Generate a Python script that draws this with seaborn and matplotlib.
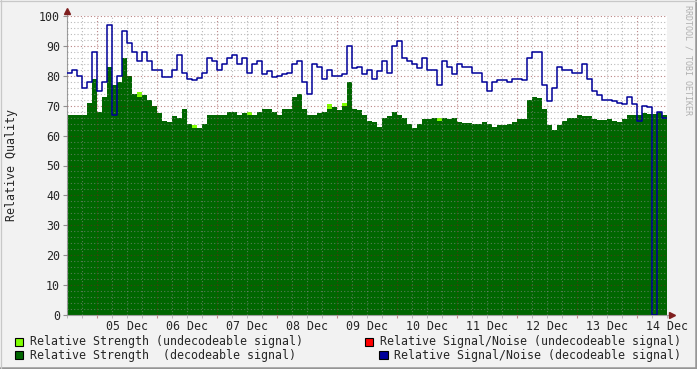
import numpy as np
import pandas as pd
import matplotlib
matplotlib.use("Agg")
import matplotlib.pyplot as plt
import matplotlib.dates as mdates
from matplotlib.ticker import FixedLocator, FuncFormatter, MultipleLocator, NullFormatter
from matplotlib.patches import Rectangle
from matplotlib.lines import Line2D
import seaborn as sns

# time span of the graph (2 hour samples)
start = pd.Timestamp("2023-12-04 12:00")
end = pd.Timestamp("2023-12-14 12:00")

# relative strength, decodeable signal (green area)
strength_dec = [
    67, 67, 67, 67, 71, 79, 68, 73, 83, 77,
    78, 86, 80, 74, 73, 73.5, 72, 70, 67.5, 65,
    64.5, 66.5, 66, 69, 64, 62.5, 62.5, 64, 67, 67,
    67, 67, 68, 68, 67, 67.5, 67, 67, 68, 69,
    69, 68, 67, 69, 69, 73, 74, 69, 67, 67,
    67.5, 68, 69, 69.5, 68.5, 70, 78, 69, 68.5, 67,
    65, 64.5, 63, 66, 66.5, 68, 67, 66, 64, 62.5,
    64, 65.5, 65.5, 66, 65, 66, 65.5, 66, 64.5, 64.2,
    64.2, 64, 64, 64.5, 64, 63, 63.5, 63.5, 64, 64.5,
    65.5, 65.5, 72, 73, 72.5, 69, 63.5, 62, 63.5, 65,
    66, 66, 67, 66.5, 66.5, 65.5, 65.2, 65.2, 65.5, 65,
    64.5, 65.5, 67, 67, 67, 67.5, 67.3, 67.3, 68, 67,
]

# relative signal/noise, decodeable signal (blue line)
snr_dec = [
    81, 82, 80, 76, 78, 88, 75, 78, 97, 67,
    80, 95, 91, 88, 85, 88, 85, 82, 82, 79.5,
    79.5, 82, 87, 81, 79, 78.7, 79.3, 81, 86, 85,
    82, 84, 86, 87, 84, 86, 81, 84, 85, 80.5,
    81.5, 79.5, 80, 80.5, 81, 84, 85, 78, 74, 84,
    83, 79, 82, 80, 80, 80.5, 90, 82.5, 83, 80.5,
    82, 79, 81.5, 85, 81, 90, 91.5, 86, 85, 84,
    82.5, 86, 82, 82, 77, 85, 83, 80.5, 84, 83,
    83, 81, 81, 78, 75, 78, 78.5, 78.5, 78, 79,
    79, 78.5, 86, 88, 88, 77, 71.5, 76, 83, 82,
    82, 81, 81, 84, 79, 75, 73.5, 72, 72, 71.5,
    71, 70.5, 73, 70.5, 65, 70, 69.5, 0, 68, 66,
]

# relative strength, undecodeable signal (few readings only)
undec_times = ["2023-12-05 16:00", "2023-12-06 14:00", "2023-12-07 12:00",
               "2023-12-08 20:00", "2023-12-09 02:00", "2023-12-10 16:00"]
undec_strength = [74.5, 63.5, 68, 70.5, 71, 66]

day_labels = ["05 Dec", "06 Dec", "07 Dec", "08 Dec", "09 Dec",
              "10 Dec", "11 Dec", "12 Dec", "13 Dec", "14 Dec"]

legend_labels = ["Relative Strength (undecodeable signal)",
                 "Relative Strength  (decodeable signal)",
                 "Relative Signal/Noise (undecodeable signal)",
                 "Relative Signal/Noise (decodeable signal)"]

LIGHT_GREEN = "#80FF00"
DARK_GREEN = "#006600"
RED = "#FF0000"
BLUE = "#000099"
FS = 8.4

sns.set_style("white")
plt.rcParams["font.family"] = ["DejaVu Sans Mono"]
plt.rcParams["font.size"] = FS

W, H = 697, 369
fig = plt.figure(figsize=(W / 100, H / 100), dpi=100, facecolor="#F2F2F2")
ax = fig.add_axes([67 / W, 1 - 315 / H, 600 / W, 299 / H])
ax.set_facecolor("white")

times = pd.date_range(start, periods=len(strength_dec), freq="2h")
df = pd.DataFrame({"time": times, "strength": strength_dec, "snr": snr_dec})
# close the last step at the end of the graph
df = pd.concat([df, pd.DataFrame({"time": [end], "strength": [strength_dec[-1]],
                                  "snr": [snr_dec[-1]]})], ignore_index=True)

ax.bar(mdates.date2num(pd.to_datetime(undec_times)), undec_strength, width=2 / 24,
       align="edge", color=LIGHT_GREEN, linewidth=0, zorder=0.9)
ax.fill_between(df["time"], 0, df["strength"], step="post", color=DARK_GREEN,
                linewidth=0, zorder=1)
sns.lineplot(data=df, x="time", y="snr", drawstyle="steps-post", color=BLUE,
             linewidth=1.1, estimator=None, ax=ax, zorder=3)

ax.set_xlim(start, end)
ax.set_ylim(0, 100)
ax.set_xlabel("")
ax.set_ylabel("")

# grid: 6 hour / 2 unit minor, midnight / 10 unit major
midnights = pd.date_range("2023-12-05", "2023-12-14", freq="D")
six_hours = pd.date_range(start, end, freq="6h")
ax.xaxis.set_major_locator(FixedLocator(mdates.date2num(midnights)))
ax.xaxis.set_minor_locator(FixedLocator(mdates.date2num(six_hours)))
label_times = pd.date_range("2023-12-05 12:00", periods=len(day_labels), freq="D")
label_map = {round(float(mdates.date2num(t)), 3): lab for t, lab in zip(label_times, day_labels)}
ax.xaxis.set_major_formatter(NullFormatter())
ax.xaxis.set_minor_formatter(FuncFormatter(lambda x, pos: label_map.get(round(x, 3), "")))
ax.yaxis.set_major_locator(MultipleLocator(10))
ax.yaxis.set_minor_locator(MultipleLocator(2))

ax.set_axisbelow(False)
ax.grid(which="major", color="#821E1E", alpha=0.55, linestyle=(0, (1, 2)), linewidth=0.8)
ax.grid(which="minor", color="#8C8C8C", alpha=0.6, linestyle=(0, (1, 2)), linewidth=0.8)

ax.tick_params(axis="y", which="major", length=3, color="#909090", pad=2,
               labelsize=FS, left=True)
ax.tick_params(axis="y", which="minor", length=0)
ax.tick_params(axis="x", which="major", length=2, color="#C08E8E", bottom=True)
ax.tick_params(axis="x", which="minor", length=2, color="#B0B0B0", pad=1.5,
               labelsize=FS, bottom=True)

for side in ["top", "right"]:
    ax.spines[side].set_visible(False)
for side in ["left", "bottom"]:
    ax.spines[side].set_color("#A0A0A0")
    ax.spines[side].set_linewidth(0.8)

# axis arrows
ax.plot([0, 0], [1, 1 + 4 / 299], color="#A0A0A0", lw=0.8, transform=ax.transAxes, clip_on=False)
ax.plot([1, 1 + 3 / 600], [0, 0], color="#A0A0A0", lw=0.8, transform=ax.transAxes, clip_on=False)
ax.plot([0], [1 + 5 / 299], marker="^", ms=4, color="#7F1F1F", transform=ax.transAxes, clip_on=False)
ax.plot([1 + 5 / 600], [0], marker=">", ms=4, color="#7F1F1F", transform=ax.transAxes, clip_on=False)

fig.text(12 / W, 1 - 165 / H, "Relative Quality", rotation=90, ha="center", va="center",
         fontsize=FS)
fig.text(688 / W, 1 - 60 / H, "RRDTOOL / TOBI OETIKER", rotation=270, ha="center",
         va="center", fontsize=6, color="#B0B0B0")

# legend
legend_pos = [(15, 337.5, 30), (15, 351, 30), (365, 337.5, 380), (379.3, 351, 394.3)]
legend_colors = [LIGHT_GREEN, DARK_GREEN, RED, BLUE]
for (sx, sy, tx), lab, col in zip(legend_pos, legend_labels, legend_colors):
    fig.add_artist(Rectangle((sx / W, 1 - (sy + 8.3) / H), 8.3 / W, 8.3 / H,
                             transform=fig.transFigure, facecolor=col,
                             edgecolor="black", linewidth=0.8))
    fig.text(tx / W, 1 - (sy + 4.2) / H, lab, ha="left", va="center", fontsize=FS)

# 3d frame
fig.add_artist(Line2D([0, 1], [1.2 / H, 1.2 / H], color="#969696", lw=1.8, transform=fig.transFigure))
fig.add_artist(Line2D([1 - 1.2 / W, 1 - 1.2 / W], [0, 1], color="#969696", lw=1.8, transform=fig.transFigure))
fig.add_artist(Line2D([0, 1], [1 - 0.6 / H, 1 - 0.6 / H], color="#C8C8C8", lw=0.9, transform=fig.transFigure))
fig.add_artist(Line2D([0.6 / W, 0.6 / W], [0, 1], color="#C8C8C8", lw=0.9, transform=fig.transFigure))

fig.savefig("out.png", dpi=100, facecolor=fig.get_facecolor())
